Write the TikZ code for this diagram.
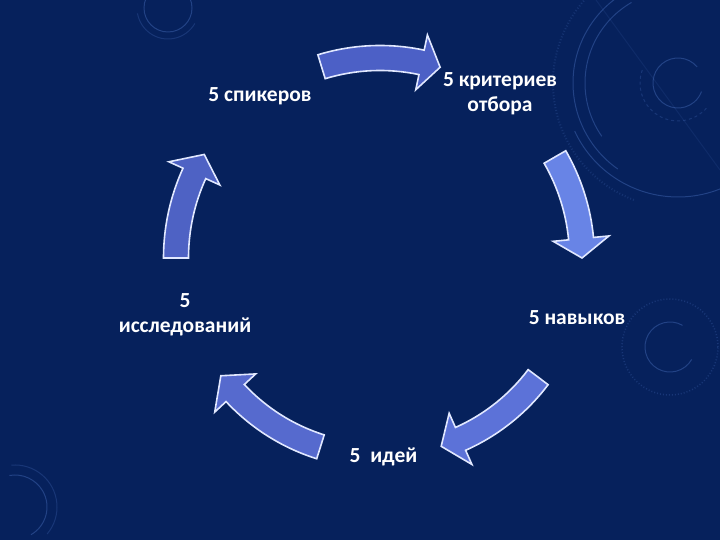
\documentclass[tikz,border=0pt]{standalone}
\usepackage{fontspec}
\setmainfont{Carlito}
\definecolor{bg}{RGB}{6,33,92}
\definecolor{deco}{RGB}{80,120,200}
\definecolor{arrA}{RGB}{76,96,198}
\definecolor{arrB}{RGB}{104,132,230}
\definecolor{arrC}{RGB}{92,114,216}
\definecolor{arrD}{RGB}{86,106,206}
\definecolor{arrE}{RGB}{78,98,196}
\definecolor{edge}{RGB}{225,232,255}
\tikzset{
  lbl/.style={text=white, font=\fontsize{21.5}{25}\selectfont\bfseries, align=center, inner sep=0pt},
  arrowbox/.style={draw=edge, line width=1.6pt, line join=miter},
  decoline/.style={draw=deco, opacity=0.38, line width=1pt}
}
% #1 fill, #2 radius, #3 tail angle, #4 head base angle, #5 tip angle
\newcommand\cycarrow[5]{%
  \filldraw[arrowbox, fill=#1] (#3:{#2+12.5}) arc[start angle=#3, end angle=#4, radius={#2+12.5}]
    -- (#4:{#2+28}) -- (#5:#2) -- (#4:{#2-28}) -- (#4:{#2-12.5})
    arc[start angle=#4, end angle=#3, radius={#2-12.5}] -- cycle;}
\begin{document}
\begin{tikzpicture}[x=1pt,y=1pt]
\useasboundingbox (0,0) rectangle (720,540);
\fill[bg] (0,0) rectangle (720,540);
\begin{scope}
\clip (0,0) rectangle (720,540);
% top-left decoration
\draw[decoline] (168,532) circle[radius=24];
\draw[decoline, opacity=0.25] (168,532) ++(190:31) arc[start angle=190, end angle=330, radius=31];
% top-right decoration
\draw[decoline] (678,457) ++(40:25) arc[start angle=40, end angle=340, radius=25];
\draw[decoline, opacity=0.25, dashed] (678,457) ++(160:38) arc[start angle=160, end angle=320, radius=38];
\draw[decoline] (678,457) ++(100:105) arc[start angle=100, end angle=235, radius=105];
\draw[decoline] (678,457) ++(120:93) arc[start angle=120, end angle=215, radius=93];
\draw[decoline] (678,457) ++(205:114) arc[start angle=205, end angle=300, radius=114];
\draw[decoline, opacity=0.2, dotted, line width=2pt] (678,457) ++(110:125) arc[start angle=110, end angle=250, radius=125];
\draw[decoline, opacity=0.12] (596,540) -- (720,370);
% right-middle decoration
\draw[decoline] (670,193) ++(60:25) arc[start angle=60, end angle=330, radius=25];
\draw[decoline, opacity=0.25, dotted, line width=1.5pt] (670,193) circle[radius=48];
% bottom-left decoration
\draw[decoline] (15,33) ++(-60:32) arc[start angle=-60, end angle=100, radius=32];
\draw[decoline, opacity=0.25] (15,33) ++(-40:42) arc[start angle=-40, end angle=95, radius=42];
\end{scope}
% cycle arrows
\begin{scope}[shift={(380,282)}]
\cycarrow{arrA}{200}{107}{78}{72.5}
\cycarrow{arrB}{202}{30}{5.5}{0}
\cycarrow{arrC}{198}{-37}{-66}{-72}
\cycarrow{arrD}{198}{-107.5}{-137}{-143.5}
\cycarrow{arrE}{204}{180}{155.5}{149.5}
\end{scope}
% labels
\node[lbl] (spk) at (260,444) {5 спикеров};
\node[lbl] (krit) at (500,446) {5 критериев\\отбора};
\node[lbl] (nav) at (577,222) {5 навыков};
\node[lbl] (idei) at (383.5,83) {5~~идей};
\node[lbl] (iss) at (185,225) {5\\исследований};
\end{tikzpicture}
\end{document}
